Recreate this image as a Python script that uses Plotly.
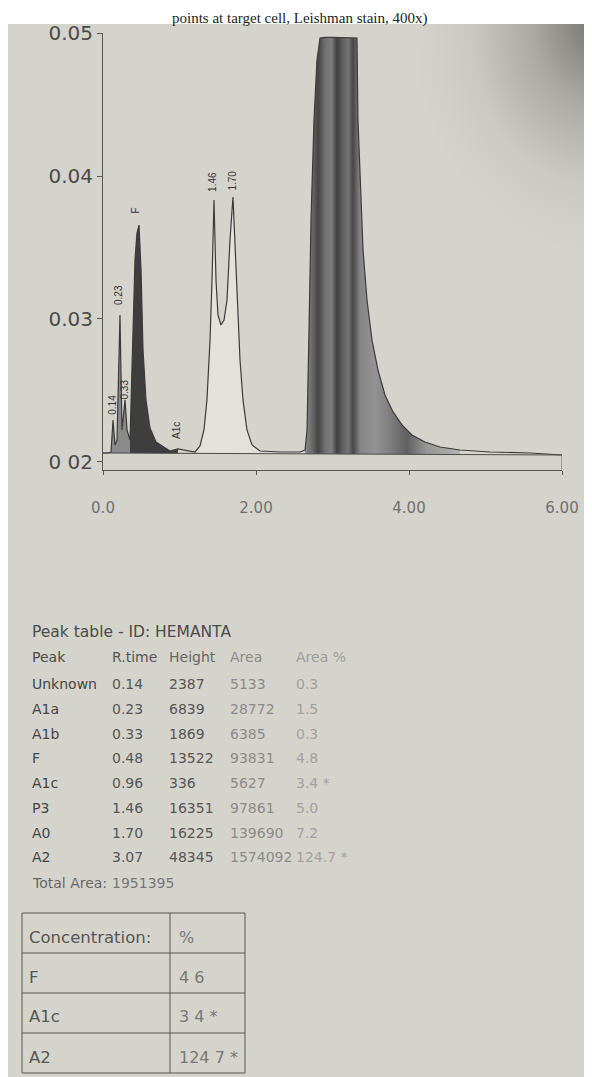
import base64
import numpy as np
import plotly.graph_objects as go

# ---------------- data ----------------
time_min = [0.000, 0.065, 0.105, 0.131, 0.157, 0.183, 0.222, 0.248, 0.288, 0.314,
            0.353, 0.379, 0.418, 0.444, 0.471, 0.497, 0.523, 0.562, 0.614, 0.693,
            0.810, 0.876, 0.980, 1.111, 1.203, 1.268, 1.320, 1.359, 1.399, 1.425,
            1.451, 1.477, 1.503, 1.542, 1.582, 1.621, 1.660, 1.699, 1.725, 1.752,
            1.791, 1.830, 1.882, 1.948, 2.052, 2.314, 2.575, 2.641, 2.667, 2.693,
            2.719, 2.758, 2.797, 2.837, 2.900, 3.000, 3.100, 3.200, 3.320, 3.333,
            3.359, 3.399, 3.451, 3.516, 3.595, 3.686, 3.791, 3.908, 4.039, 4.209,
            4.405, 4.667, 5.059, 5.582, 6.000]
absorbance = [0.02063, 0.02063, 0.02070, 0.02294, 0.02119, 0.02154, 0.03028, 0.02224, 0.02434, 0.02224,
              0.02154, 0.02600, 0.03413, 0.03600, 0.03657, 0.03343, 0.02783, 0.02434, 0.02238, 0.02140,
              0.02098, 0.02077, 0.02091, 0.02077, 0.02070, 0.02112, 0.02224, 0.02434, 0.02853, 0.03273,
              0.03832, 0.03273, 0.03028, 0.02958, 0.02993, 0.03133, 0.03552, 0.03853, 0.03552, 0.03133,
              0.02713, 0.02434, 0.02224, 0.02119, 0.02077, 0.02070, 0.02070, 0.02084, 0.02224, 0.02923,
              0.03692, 0.04392, 0.04811, 0.04965, 0.04970, 0.04970, 0.04970, 0.04970, 0.04965, 0.04392,
              0.03972, 0.03483, 0.03133, 0.02853, 0.02643, 0.02469, 0.02350, 0.02259, 0.02189, 0.02140,
              0.02105, 0.02084, 0.02070, 0.02063, 0.02049]
baseline_time = [0.0, 6.0]
baseline_abs = [0.02063, 0.02049]

y_ticks = [0.02, 0.03, 0.04, 0.05]
y_tick_text = ["0 02", "0.03", "0.04", "0.05"]
x_ticks = [0, 2, 4, 6]
x_tick_text = ["0.0", "2.00", "4.00", "6.00"]

peak_label_text = ["0.14", "0.23", "0.33", "F", "A1c", "1.46", "1.70"]
peak_label_time = [0.13, 0.20, 0.28, 0.42, 0.96, 1.44, 1.69]
peak_label_abs = [0.0240, 0.0317, 0.0251, 0.0376, 0.0222, 0.0396, 0.0397]

peak_names = ["Unknown", "A1a", "A1b", "F", "A1c", "P3", "A0", "A2"]
r_time = ["0.14", "0.23", "0.33", "0.48", "0.96", "1.46", "1.70", "3.07"]
heights = ["2387", "6839", "1869", "13522", "336", "16351", "16225", "48345"]
areas = ["5133", "28772", "6385", "93831", "5627", "97861", "139690", "1574092"]
area_pct = ["0.3", "1.5", "0.3", "4.8", "3.4 *", "5.0", "7.2", "124.7 *"]
total_area = "1951395"
conc_names = ["F", "A1c", "A2"]
conc_values = ["4 6", "3 4 *", "124 7 *"]

# ---------------- layout geometry ----------------
# page pixels; the html body adds an 8px margin, so the figure is 8px smaller
OFF = 8
PW, PH = 592, 1077
W, H = PW - OFF, PH - OFF
L, R, T, B = 103, 562, 33, 470          # plot area in page pixels
Y_MIN, Y_MAX = 0.01944, 0.05


def px(x):
    return (x - L) / (R - L)


def py(y):
    return (B - y) / (B - T)


t_arr = np.array(time_min)
v_arr = np.array(absorbance)


def fill_poly(t0, t1):
    m = (t_arr >= t0) & (t_arr <= t1)
    ts, vs = t_arr[m], v_arr[m]
    bl = np.interp(ts, baseline_time, baseline_abs)
    return np.concatenate([ts, ts[::-1]]), np.concatenate([vs, bl[::-1]])


fig = go.Figure()

# small early peaks (light hatch grey)
sx, sy = fill_poly(0.10, 0.36)
fig.add_trace(go.Scatter(x=sx, y=sy, mode="lines", fill="toself",
                         fillcolor="#8a8a8a", line=dict(width=0), hoverinfo="skip"))
# F peak (dark)
fx, fy = fill_poly(0.35, 1.01)
fig.add_trace(go.Scatter(x=fx, y=fy, mode="lines", fill="toself",
                         fillcolor="#3e3e3e", line=dict(width=0), hoverinfo="skip"))
# P3/A0 region (light)
p3x, p3y = fill_poly(1.2, 2.1)
fig.add_trace(go.Scatter(x=p3x, y=p3y, mode="lines", fill="toself",
                         fillcolor="#e2e1da", line=dict(width=0), hoverinfo="skip"))
# A2 striped
ax2, ay2 = fill_poly(2.62, 4.7)
fig.add_trace(go.Scatter(
    x=ax2, y=ay2, mode="lines", fill="toself", line=dict(width=0), hoverinfo="skip",
    fillgradient=dict(type="horizontal", colorscale=[
        [0, "#8a8a8a"], [0.05, "#666666"], [0.084, "#444444"], [0.13, "#707070"],
        [0.17, "#7e7e7e"], [0.206, "#404040"], [0.24, "#5e5e5e"], [0.28, "#747474"],
        [0.31, "#474747"], [0.355, "#858585"], [0.45, "#939393"], [0.55, "#7e7e7e"],
        [0.66, "#606060"], [0.78, "#959595"], [1, "#b3b3b3"]])))

# chromatogram line
fig.add_trace(go.Scatter(x=time_min, y=absorbance, mode="lines",
                         line=dict(color="#3a3a3a", width=1.2), hoverinfo="skip"))
# baseline
fig.add_trace(go.Scatter(x=baseline_time, y=baseline_abs, mode="lines",
                         line=dict(color="#4a4a4a", width=1), hoverinfo="skip"))

shapes = []
PHOTO_TOP = 24
# photo background
shapes.append(dict(type="rect", xref="paper", yref="paper", layer="below",
                   x0=px(3), x1=px(PW + 2), y0=py(PH + 2), y1=py(PHOTO_TOP),
                   fillcolor="#d5d4cc", line=dict(width=0)))
# right frame segment
shapes.append(dict(type="line", xref="x", yref="y", x0=6, x1=6, y0=Y_MIN, y1=baseline_abs[-1],
                   line=dict(color="#666", width=1)))

# soft photographic vignette in the top-right corner
svg = ("<svg xmlns='http://www.w3.org/2000/svg' width='200' height='240'>"
       "<defs><radialGradient id='g' cx='1' cy='0' r='1'>"
       "<stop offset='0' stop-color='#2a2a2a' stop-opacity='0.55'/>"
       "<stop offset='0.35' stop-color='#2a2a2a' stop-opacity='0.25'/>"
       "<stop offset='0.7' stop-color='#2a2a2a' stop-opacity='0.06'/>"
       "<stop offset='1' stop-color='#2a2a2a' stop-opacity='0'/>"
       "</radialGradient></defs><rect width='200' height='240' fill='url(#g)'/></svg>")
vig_src = "data:image/svg+xml;base64," + base64.b64encode(svg.encode()).decode()
images = [dict(source=vig_src, xref="paper", yref="paper", x=px(412), y=py(PHOTO_TOP),
               sizex=(PW + 4 - 412) / (R - L), sizey=230 / (B - T), xanchor="left",
               yanchor="top", sizing="stretch", layer="above", opacity=1)]

annotations = []
# caption from the source page (top strip)
annotations.append(dict(xref="paper", yref="paper", x=px(300), y=py(OFF), xanchor="center",
                        yanchor="top", showarrow=False,
                        text="points at target cell, Leishman stain, 400x)",
                        font=dict(family="Liberation Serif", size=15, color="#222")))
# peak labels
for txt, tt, vv in zip(peak_label_text, peak_label_time, peak_label_abs):
    annotations.append(dict(x=tt, y=vv, xref="x", yref="y", text=txt, showarrow=False,
                            textangle=-90, font=dict(family="Liberation Sans", size=10, color="#333")))

TF = "DejaVu Sans"
FS = 14
annotations.append(dict(xref="paper", yref="paper", x=px(30), y=py(632), xanchor="left",
                        yanchor="middle", showarrow=False, text="Peak table - ID: HEMANTA",
                        font=dict(family=TF, size=15.5, color="#4a4a4a")))
col_x = [30, 110, 167, 228, 294]
headers = ["Peak", "R.time", "Height", "Area", "Area %"]
head_col = ["#4a4a4a", "#555", "#666", "#8a8a8a", "#9c9c9c"]
for hx, ht, hc in zip(col_x, headers, head_col):
    annotations.append(dict(xref="paper", yref="paper", x=px(hx), y=py(657), xanchor="left",
                            yanchor="middle", showarrow=False, text=ht,
                            font=dict(family=TF, size=FS, color=hc)))
row_y = [684, 709, 734, 758, 783, 808, 833, 857]
for i, ry in enumerate(row_y):
    vals = [peak_names[i], r_time[i], heights[i], areas[i], area_pct[i]]
    cols = ["#444", "#555", "#555", "#8a8a8a", "#a0a0a0"]
    for cx, vt, cc in zip(col_x, vals, cols):
        annotations.append(dict(xref="paper", yref="paper", x=px(cx), y=py(ry), xanchor="left",
                                yanchor="middle", showarrow=False, text=vt,
                                font=dict(family=TF, size=FS, color=cc)))
annotations.append(dict(xref="paper", yref="paper", x=px(30), y=py(883), xanchor="left",
                        yanchor="middle", showarrow=False, text="Total Area:",
                        font=dict(family=TF, size=FS, color="#666")))
annotations.append(dict(xref="paper", yref="paper", x=px(110), y=py(883), xanchor="left",
                        yanchor="middle", showarrow=False, text=total_area,
                        font=dict(family=TF, size=FS, color="#777")))

# concentration box
bx0, bx1, bdiv = 22, 245, 170
by = [913, 953, 993, 1033, 1073]
for yy in by:
    shapes.append(dict(type="line", xref="paper", yref="paper", x0=px(bx0), x1=px(bx1),
                       y0=py(yy), y1=py(yy), line=dict(color="#555", width=1)))
for xx in [bx0, bdiv, bx1]:
    shapes.append(dict(type="line", xref="paper", yref="paper", x0=px(xx), x1=px(xx),
                       y0=py(by[0]), y1=py(by[-1]), line=dict(color="#555", width=1)))
box_left = ["Concentration:"] + conc_names
box_right = ["%"] + conc_values
for i in range(4):
    ymid = (by[i] + by[i + 1]) / 2 + 4
    annotations.append(dict(xref="paper", yref="paper", x=px(27), y=py(ymid), xanchor="left",
                            yanchor="middle", showarrow=False, text=box_left[i],
                            font=dict(family=TF, size=16.5, color="#555")))
    annotations.append(dict(xref="paper", yref="paper", x=px(177), y=py(ymid), xanchor="left",
                            yanchor="middle", showarrow=False, text=box_right[i],
                            font=dict(family=TF, size=16, color="#777")))

fig.update_layout(
    width=W, height=H,
    margin=dict(l=L - OFF, r=PW - R, t=T - OFF, b=PH - B, pad=0),
    paper_bgcolor="white", plot_bgcolor="rgba(0,0,0,0)",
    showlegend=False,
    shapes=shapes, annotations=annotations, images=images,
    xaxis=dict(range=[0, 6], tickvals=x_ticks, ticktext=x_tick_text, showgrid=False,
               zeroline=False, showline=True, linecolor="#555", linewidth=1,
               ticks="outside", ticklen=4, tickcolor="#555", ticklabelstandoff=20,
               tickfont=dict(family="DejaVu Sans", size=15, color="#707070")),
    yaxis=dict(range=[Y_MIN, Y_MAX], tickvals=y_ticks, ticktext=y_tick_text, showgrid=False,
               zeroline=False, showline=True, linecolor="#555", linewidth=1,
               ticks="outside", ticklen=5, tickcolor="#555",
               tickfont=dict(family="DejaVu Sans", size=20, color="#4a4a4a")),
)

fig.write_html("out.html")
